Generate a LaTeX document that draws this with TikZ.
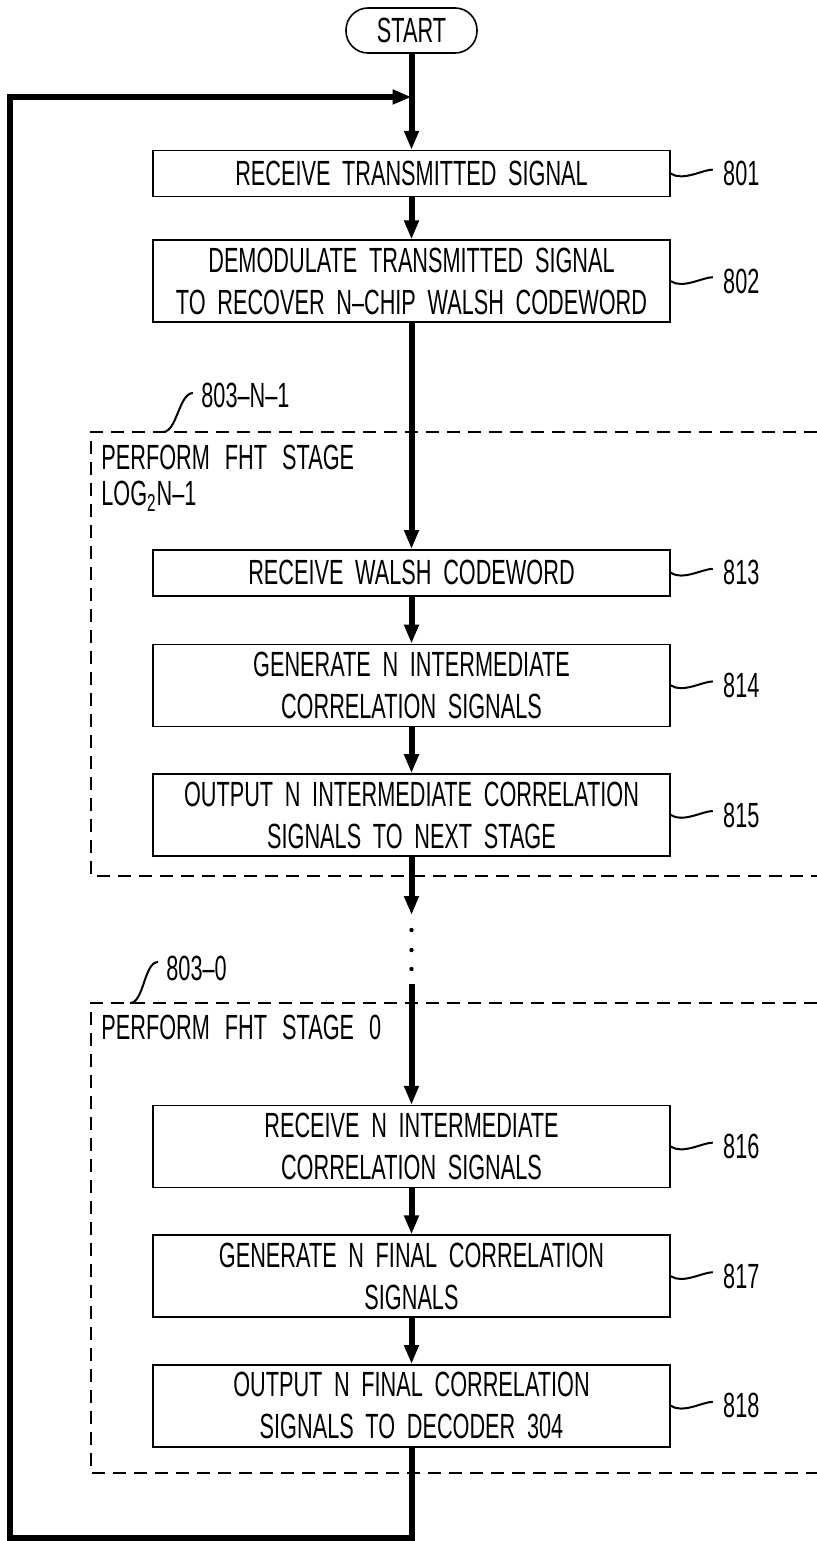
\documentclass[tikz,border=0pt]{standalone}
\usepackage{fontspec}
\setmainfont{Liberation Sans}[FakeStretch=0.62,WordSpace=2.5]
\usetikzlibrary{positioning,arrows.meta}

\begin{document}
\begin{tikzpicture}[x=0.5pt, y=-0.5pt, node distance=23pt, auto]
	% 样式
	\tikzstyle{term} = [draw, line width=0.8pt, rounded corners=11pt, minimum width=65.5pt, minimum height=22.5pt, inner sep=0pt, font=\fontsize{17.5}{21}\selectfont]
	\tikzstyle{stepbox} = [rectangle, draw, line width=0.8pt, text width=250pt, inner xsep=4.25pt, inner ysep=2pt, minimum height=23pt, align=center, font=\fontsize{17.5}{21}\selectfont]
	\tikzstyle{twoline} = [stepbox, minimum height=41pt]
	\tikzstyle{ref} = [inner sep=0pt, font=\fontsize{17.5}{21}\selectfont]
	\tikzstyle{stagetitle} = [inner sep=0pt, anchor=north west, align=left, font=\fontsize{17.5}{18}\selectfont]
	\tikzstyle{arrow} = [line width=3pt, -{Triangle[width=7pt,length=9.5pt]}]
	\tikzstyle{stage} = [line width=1pt, dash pattern=on 6.5pt off 4pt]
	\tikzstyle{lead} = [line width=1pt]

	\path[use as bounding box, fill=white] (0,0) rectangle (817,1541);

	% 虚线框
	\draw[stage] (817,432) -| (91,876) -- (817,876);
	\draw[stage] (817,1003) -| (91,1473) -- (817,1473);
	\node[stagetitle] (titleA) at (101,445) {PERFORM FHT STAGE\\LOG\textsubscript{2}N--1};
	\node[stagetitle] (titleB) at (101,1015) {PERFORM FHT STAGE 0};
	\node[ref, anchor=west] (g803a) at (201,395) {803--N--1};
	\node[ref, anchor=west] (g803b) at (166,968) {803--0};
	\coordinate (tagA) at (163,432);
	\coordinate (tagB) at (130,1003);
	\draw[lead] (tagA) .. controls +(14,0) and +(-14,0) .. ([xshift=-4pt,yshift=1pt]g803a.west);
	\draw[lead] (tagB) .. controls +(14,0) and +(-14,0) .. ([xshift=-4pt,yshift=3pt]g803b.west);

	% 节点
	\node[term] (start) at (411.5,30.5) {START};
	\node[stepbox, below=48pt of start] (b801) {RECEIVE TRANSMITTED SIGNAL};
	\node[twoline, below=21pt of b801] (b802) {DEMODULATE TRANSMITTED SIGNAL\\TO RECOVER N--CHIP WALSH CODEWORD};
	\node[stepbox, below=113pt of b802] (b813) {RECEIVE WALSH CODEWORD};
	\node[twoline, below=23.5pt of b813] (b814) {GENERATE N INTERMEDIATE\\CORRELATION SIGNALS};
	\node[twoline, below=23pt of b814] (b815) {OUTPUT N INTERMEDIATE CORRELATION\\SIGNALS TO NEXT STAGE};
	\node[twoline, below=124pt of b815] (b816) {RECEIVE N INTERMEDIATE\\CORRELATION SIGNALS};
	\node[twoline, below=23pt of b816] (b817) {GENERATE N FINAL CORRELATION\\SIGNALS};
	\node[twoline, below=23pt of b817] (b818) {OUTPUT N FINAL CORRELATION\\SIGNALS TO DECODER 304};

	% 标号
	\node[ref, right=26pt of b801] (r801) {801};
	\node[ref, right=26pt of b802] (r802) {802};
	\node[ref, right=26pt of b813] (r813) {813};
	\node[ref, right=26pt of b814] (r814) {814};
	\node[ref, right=26pt of b815] (r815) {815};
	\node[ref, right=26pt of b816] (r816) {816};
	\node[ref, right=26pt of b817] (r817) {817};
	\node[ref, right=26pt of b818] (r818) {818};
	\draw[lead] (b801.east) .. controls +(12,8) and +(-10,0) .. ([xshift=-5pt,yshift=2pt]r801.west);
	\draw[lead] (b802.east) .. controls +(12,8) and +(-10,0) .. ([xshift=-5pt,yshift=2pt]r802.west);
	\draw[lead] (b813.east) .. controls +(12,8) and +(-10,0) .. ([xshift=-5pt,yshift=2pt]r813.west);
	\draw[lead] (b814.east) .. controls +(12,8) and +(-10,0) .. ([xshift=-5pt,yshift=2pt]r814.west);
	\draw[lead] (b815.east) .. controls +(12,8) and +(-10,0) .. ([xshift=-5pt,yshift=2pt]r815.west);
	\draw[lead] (b816.east) .. controls +(12,8) and +(-10,0) .. ([xshift=-5pt,yshift=2pt]r816.west);
	\draw[lead] (b817.east) .. controls +(12,8) and +(-10,0) .. ([xshift=-5pt,yshift=2pt]r817.west);
	\draw[lead] (b818.east) .. controls +(12,8) and +(-10,0) .. ([xshift=-5pt,yshift=2pt]r818.west);

	% 连线
	\coordinate (join) at (411.5,97);
	\coordinate (gapA) at (411.5,915);
	\coordinate (gapB) at (411.5,984);
	\coordinate (loopR) at (411.5,1538);
	\coordinate (loopL) at (10,1538);
	\coordinate (loopT) at (10,97);
	\draw[arrow] (start) -- (b801);
	\draw[arrow] (b801) -- (b802);
	\draw[arrow] (b802) -- (b813);
	\draw[arrow] (b813) -- (b814);
	\draw[arrow] (b814) -- (b815);
	\draw[arrow] (b815) -- (gapA);
	\fill (411.5,930) circle (1.1pt);
	\fill (411.5,950) circle (1.1pt);
	\fill (411.5,969) circle (1.1pt);
	\draw[arrow] (gapB) -- (b816);
	\draw[arrow] (b816) -- (b817);
	\draw[arrow] (b817) -- (b818);
	\draw[arrow] (b818) -- (loopR) -- (loopL) -- (loopT) -- (join);
\end{tikzpicture}
\end{document}
